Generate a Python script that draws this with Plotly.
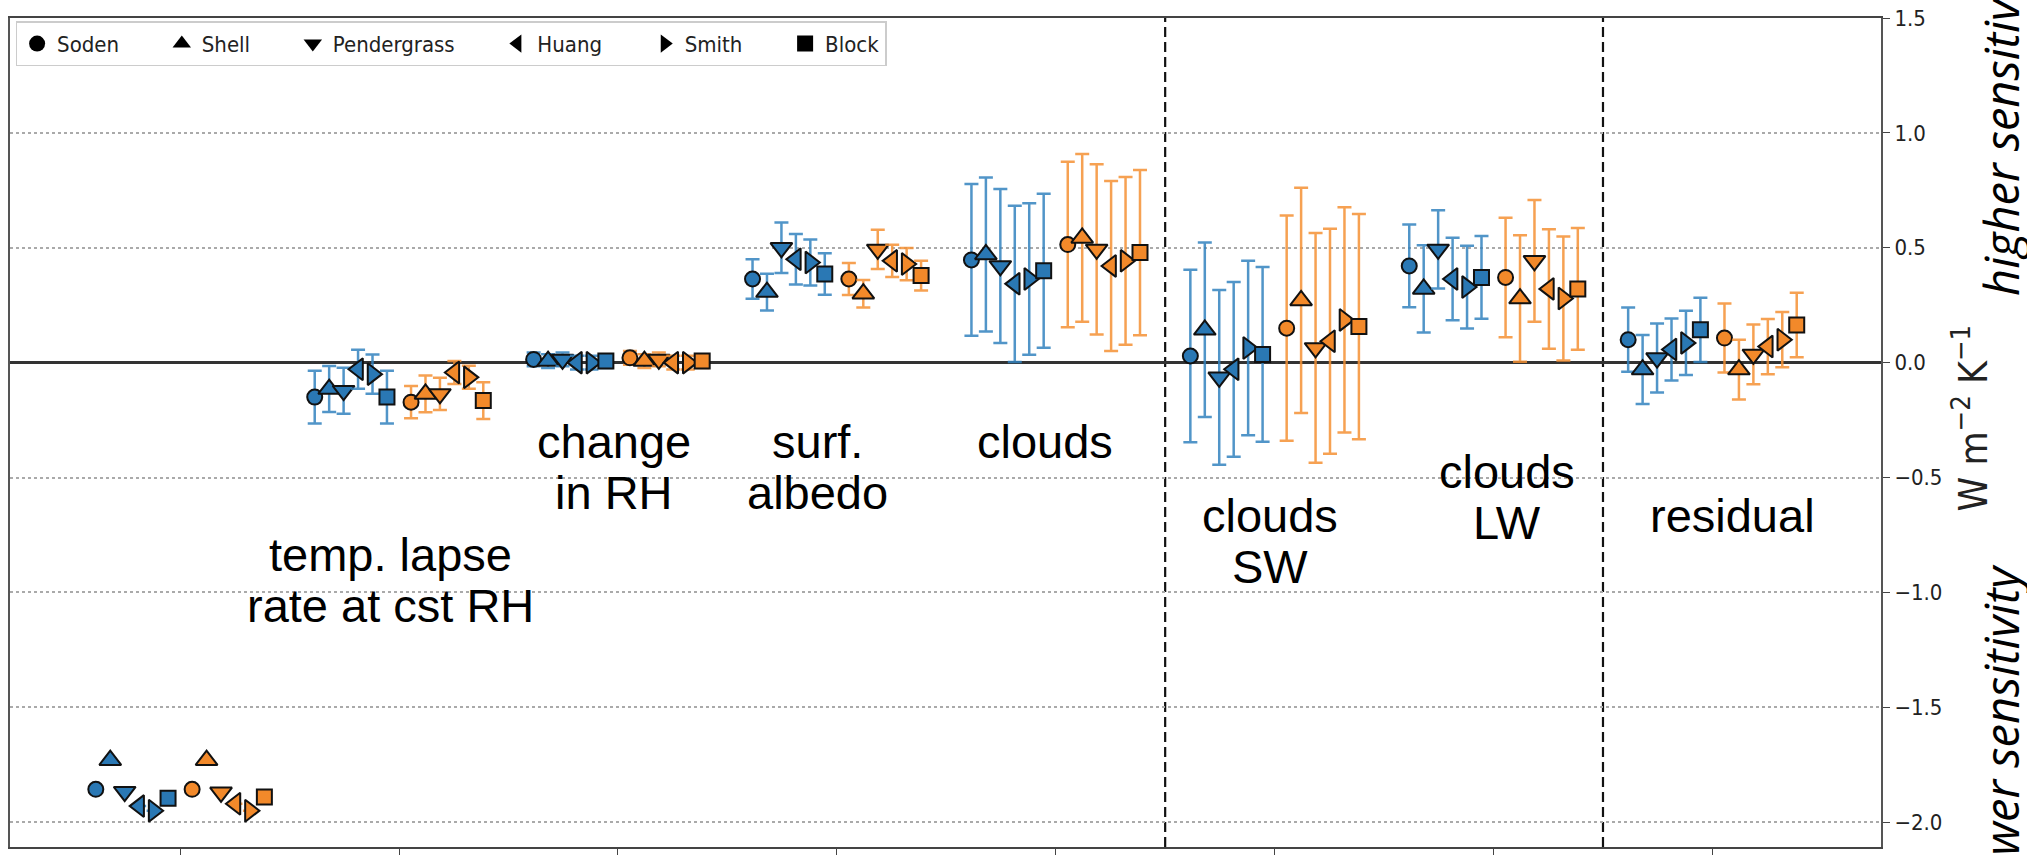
import plotly.graph_objects as go

# Feedback categories along the x axis (one group per category)
CATEGORIES = ["Planck", "lapse rate", "relative humidity", "surface albedo",
              "clouds", "clouds SW", "clouds LW", "residual"]
KERNELS = ["Soden", "Shell", "Pendergrass", "Huang", "Smith", "Block"]
SYMBOLS = ["circle", "triangle-up", "triangle-down", "triangle-left",
           "triangle-right", "square"]

# Experiment 1 (blue): global-mean feedbacks, W m-2 K-1, and error half-widths
EXP1_SODEN = [-1.857, -0.150, 0.014, 0.364, 0.447, 0.029, 0.421, 0.100]
EXP1_SHELL = [-1.730, -0.115, 0.007, 0.307, 0.471, 0.143, 0.321, -0.030]
EXP1_PENDERGRASS = [-1.867, -0.122, 0.014, 0.500, 0.421, -0.064, 0.493, 0.020]
EXP1_HUANG = [-1.930, -0.029, 0.000, 0.450, 0.343, -0.029, 0.364, 0.057]
EXP1_SMITH = [-1.950, -0.050, 0.000, 0.436, 0.364, 0.064, 0.329, 0.086]
EXP1_BLOCK = [-1.896, -0.150, 0.007, 0.386, 0.400, 0.036, 0.371, 0.143]

EXP1_SODEN_ERR = [0.0, 0.115, 0.03, 0.086, 0.330, 0.375, 0.18, 0.140]
EXP1_SHELL_ERR = [0.0, 0.100, 0.03, 0.080, 0.335, 0.380, 0.19, 0.150]
EXP1_PENDERGRASS_ERR = [0.0, 0.100, 0.03, 0.110, 0.335, 0.380, 0.17, 0.150]
EXP1_HUANG_ERR = [0.0, 0.085, 0.03, 0.110, 0.340, 0.380, 0.18, 0.135]
EXP1_SMITH_ERR = [0.0, 0.085, 0.03, 0.100, 0.330, 0.380, 0.18, 0.140]
EXP1_BLOCK_ERR = [0.0, 0.115, 0.03, 0.090, 0.335, 0.380, 0.18, 0.140]

# Experiment 2 (orange)
EXP2_SODEN = [-1.857, -0.172, 0.021, 0.364, 0.514, 0.150, 0.371, 0.107]
EXP2_SHELL = [-1.730, -0.136, 0.007, 0.300, 0.543, 0.271, 0.279, -0.030]
EXP2_PENDERGRASS = [-1.870, -0.136, 0.014, 0.493, 0.493, 0.064, 0.443, 0.036]
EXP2_HUANG = [-1.920, -0.043, 0.000, 0.443, 0.421, 0.093, 0.321, 0.070]
EXP2_SMITH = [-1.950, -0.064, 0.000, 0.429, 0.443, 0.186, 0.279, 0.100]
EXP2_BLOCK = [-1.890, -0.165, 0.007, 0.379, 0.479, 0.157, 0.321, 0.164]

EXP2_SODEN_ERR = [0.0, 0.07, 0.03, 0.070, 0.360, 0.49, 0.260, 0.15]
EXP2_SHELL_ERR = [0.0, 0.08, 0.03, 0.060, 0.365, 0.49, 0.275, 0.13]
EXP2_PENDERGRASS_ERR = [0.0, 0.07, 0.03, 0.085, 0.370, 0.50, 0.265, 0.13]
EXP2_HUANG_ERR = [0.0, 0.05, 0.03, 0.070, 0.370, 0.49, 0.260, 0.12]
EXP2_SMITH_ERR = [0.0, 0.05, 0.03, 0.070, 0.365, 0.49, 0.270, 0.12]
EXP2_BLOCK_ERR = [0.0, 0.08, 0.03, 0.065, 0.360, 0.49, 0.265, 0.14]

Y_TICKS = [-2.0, -1.5, -1.0, -0.5, 0.0, 0.5, 1.0, 1.5]

EXPERIMENTS = [
    dict(values=[EXP1_SODEN, EXP1_SHELL, EXP1_PENDERGRASS, EXP1_HUANG, EXP1_SMITH, EXP1_BLOCK],
         errors=[EXP1_SODEN_ERR, EXP1_SHELL_ERR, EXP1_PENDERGRASS_ERR, EXP1_HUANG_ERR,
                 EXP1_SMITH_ERR, EXP1_BLOCK_ERR],
         color="#2a78b4", bar="rgba(50,130,190,0.85)", start=-0.385),
    dict(values=[EXP2_SODEN, EXP2_SHELL, EXP2_PENDERGRASS, EXP2_HUANG, EXP2_SMITH, EXP2_BLOCK],
         errors=[EXP2_SODEN_ERR, EXP2_SHELL_ERR, EXP2_PENDERGRASS_ERR, EXP2_HUANG_ERR,
                 EXP2_SMITH_ERR, EXP2_BLOCK_ERR],
         color="#f2892a", bar="rgba(244,145,52,0.85)", start=0.055),
]
DODGE_STEP = 0.066

MARKER_SIZE = {"circle": 15, "square": 15, "triangle-up": 19, "triangle-down": 19,
               "triangle-left": 19, "triangle-right": 19}

fig = go.Figure()

for exp in EXPERIMENTS:
    for k, (kernel, sym) in enumerate(zip(KERNELS, SYMBOLS)):
        offset = exp["start"] + DODGE_STEP * k
        fig.add_trace(go.Scatter(
            x=[i + offset for i in range(len(CATEGORIES))],
            y=exp["values"][k],
            mode="markers",
            name=kernel,
            showlegend=False,
            text=CATEGORIES,
            marker=dict(symbol=sym, size=MARKER_SIZE[sym], color=exp["color"],
                        line=dict(color="#111111", width=2)),
            error_y=dict(type="data", array=exp["errors"][k], visible=True,
                         color=exp["bar"], thickness=2.5, width=7),
        ))

# black legend entries, one per kernel; non-breaking spaces widen the column gap
LEGEND_GAP = "\u00a0" * 6
for k, (kernel, sym) in enumerate(zip(KERNELS, SYMBOLS)):
    fig.add_trace(go.Scatter(
        x=[None], y=[None], mode="markers",
        name=kernel + (LEGEND_GAP if k < len(KERNELS) - 1 else ""),
        marker=dict(symbol=sym, size=16, color="black"),
    ))

# category labels, drawn line by line
LABEL_FONT = dict(family="Liberation Sans, Arial, sans-serif", size=47, color="black")
LABELS = [
    (0.96, -0.835, ["temp. lapse", "rate at cst RH"]),
    (1.98, -0.344, ["change", "in RH"]),
    (2.91, -0.344, ["surf.", "albedo"]),
    (3.95, -0.344, ["clouds"]),
    (4.98, -0.667, ["clouds", "SW"]),
    (6.06, -0.473, ["clouds", "LW"]),
    (7.09, -0.667, ["residual"]),
]
LINE_STEP = 0.222
annotations = []
for x, y, lines in LABELS:
    for j, line in enumerate(lines):
        annotations.append(dict(x=x, y=y - j * LINE_STEP, xref="x", yref="y",
                                text=line, showarrow=False, font=LABEL_FONT,
                                xanchor="center", yanchor="middle"))

# axis unit and sensitivity notes on the right
annotations.append(dict(x=1.0475, y=0.518, xref="paper", yref="paper",
                        text="W m<sup>−2</sup> K<sup>−1</sup>", textangle=-90,
                        showarrow=False, xanchor="center", yanchor="middle",
                        font=dict(family="DejaVu Sans Condensed, DejaVu Sans",
                                  size=39, color="#222222")))
SENS_FONT = dict(family="Open Sans, Noto Sans, sans-serif", size=47, color="black",
                 style="italic")
annotations.append(dict(x=1.0640, y=0.662, xref="paper", yref="paper",
                        text="higher sensitivity", textangle=-90, showarrow=False,
                        xanchor="center", yanchor="bottom", font=SENS_FONT))
annotations.append(dict(x=1.0640, y=0.343, xref="paper", yref="paper",
                        text="lower sensitivity", textangle=-90, showarrow=False,
                        xanchor="center", yanchor="top", font=SENS_FONT))
# figure title, mostly above the page
annotations.append(dict(x=0.8926, y=1.0105, xref="paper", yref="paper",
                        text="Global Mean Feedbacks", showarrow=False,
                        xanchor="center", yanchor="bottom",
                        font=dict(family="DejaVu Sans", size=28, color="#555555")))

shapes = [
    dict(type="line", xref="x", yref="paper", x0=xv, x1=xv, y0=0, y1=1,
         line=dict(color="#111111", width=2.2, dash="10px,5px"), layer="between")
    for xv in (4.5, 6.5)
]

fig.update_layout(
    width=2027, height=857,
    margin=dict(l=10, r=146, t=18, b=4),
    paper_bgcolor="white", plot_bgcolor="white",
    annotations=annotations, shapes=shapes,
    legend=dict(orientation="h", x=0.003, y=0.996, xanchor="left", yanchor="top",
                bgcolor="white", bordercolor="#cccccc", borderwidth=1.5,
                font=dict(family="DejaVu Sans Condensed, DejaVu Sans", size=22,
                          color="#222222")),
    xaxis=dict(range=[-0.777, 7.77], tickvals=list(range(len(CATEGORIES))),
               showticklabels=False, ticks="outside", ticklen=6, tickcolor="#444",
               showgrid=False, zeroline=False, showline=True, mirror=True,
               linecolor="#444444", linewidth=2),
    yaxis=dict(range=[-2.108, 1.5], side="right", tickvals=Y_TICKS,
               tickformat=".1f", ticks="outside", ticklen=7, tickcolor="#444",
               tickfont=dict(family="DejaVu Sans Condensed, DejaVu Sans", size=22,
                             color="#222222"),
               showgrid=True, gridcolor="#aaaaaa", gridwidth=1.5, griddash="dot",
               zeroline=True, zerolinecolor="#333333", zerolinewidth=3,
               showline=True, mirror=True, linecolor="#555555", linewidth=2),
)

fig.write_html("out.html")
